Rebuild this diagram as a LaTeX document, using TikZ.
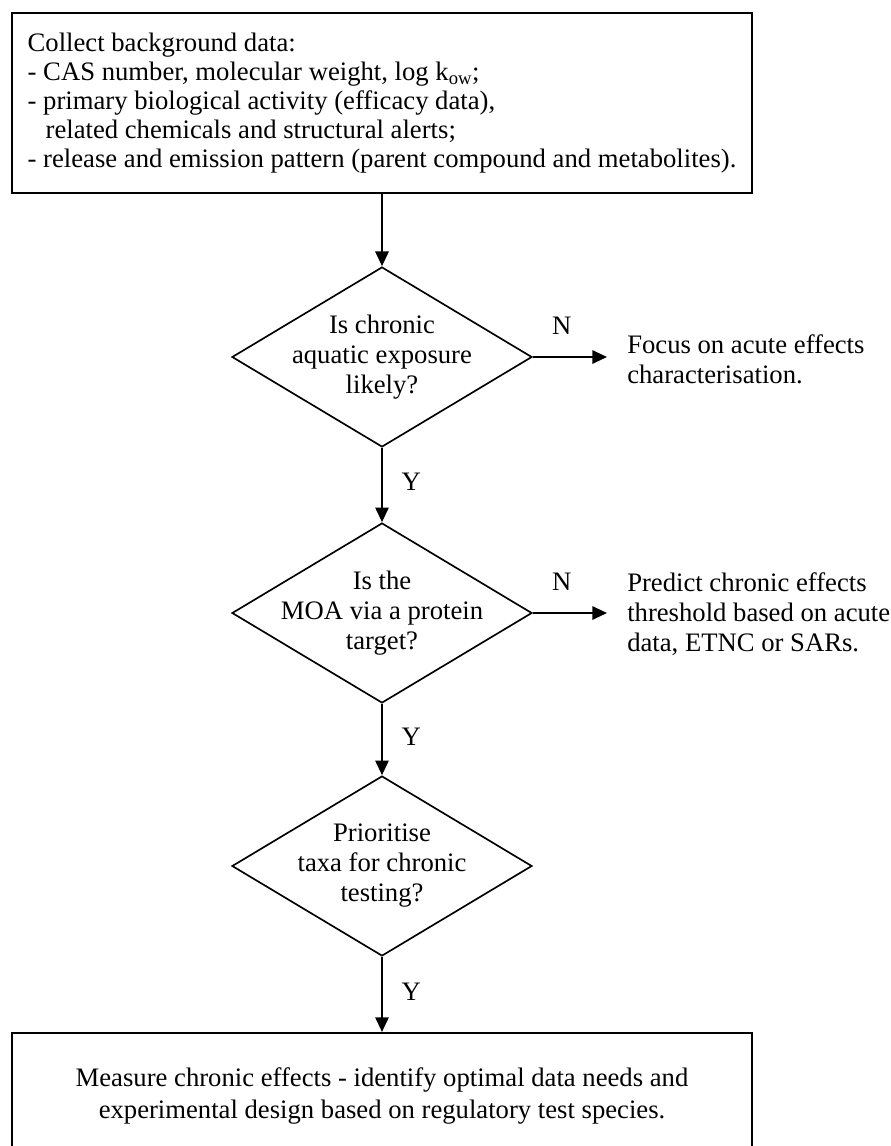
\documentclass[tikz,border=0pt]{standalone}
\usepackage{fontspec}
\setmainfont{Liberation Serif}
\usetikzlibrary{arrows.meta,shapes.geometric}

\begin{document}
\begin{tikzpicture}[
    x=0.75pt, y=-0.75pt,
    box/.style={draw, line width=1.6pt, inner xsep=11pt, inner ysep=0pt,
                font=\fontsize{20}{21.75}\selectfont},
    decision/.style={diamond, draw, line width=1.25pt, inner sep=0pt,
                minimum width=225pt, minimum height=135pt},
    dtext/.style={align=center, inner sep=0pt,
                font=\fontsize{20}{22.5}\selectfont},
    outcome/.style={align=left, inner xsep=15pt, inner ysep=0pt,
                font=\fontsize{20}{22.5}\selectfont},
    flowarrow/.style={-{Triangle[length=11pt,width=10pt]}, line width=1.5pt},
    nlabel/.style={font=\fontsize{20}{22.5}\selectfont, inner sep=0pt,
                pos=0.39, above=16pt},
    ylabel/.style={font=\fontsize{20}{22.5}\selectfont, inner sep=0pt,
                pos=0.46, right=14pt}
  ]
  \useasboundingbox (0,0) rectangle (891,1146);
  \clip (0,0) rectangle (891,1146);

  % starting point: background information
  \node[box, align=left, minimum width=555pt, minimum height=135pt]
    (bg) at (382,103)
    {Collect background data:\\
     - CAS number, molecular weight, log k\textsubscript{ow};\\
     - primary biological activity (efficacy data),\\
     \hspace*{13.5pt}related chemicals and structural alerts;\\
     - release and emission pattern (parent compound and metabolites).};

  % decisions
  \node[decision, label={[dtext]center:{Is chronic\\aquatic exposure\\likely?}}]
    (d1) at (382,357) {};
  \node[decision, label={[dtext]center:{Is the\\MOA via a protein\\target?}}]
    (d2) at (382,613) {};
  \node[decision, label={[dtext]center:{Prioritise\\taxa for chronic\\testing?}}]
    (d3) at (382,866) {};

  % "no" outcomes
  \node[outcome, anchor=west] (f1) at (607,359)
    {Focus on acute effects\\characterisation.};
  \node[outcome, anchor=west] (f2) at (607,614)
    {Predict chronic effects\\threshold based on acute\\data, ETNC or SARs.};

  % final step
  \node[box, align=center, minimum width=555pt, minimum height=94.5pt,
        font=\fontsize{20}{23.5}\selectfont]
    (mc) at (382,1096)
    {Measure chronic effects - identify optimal data needs and\\
     experimental design based on regulatory test species.};

  % connectors
  \draw[flowarrow] (bg) -- (d1);
  \draw[flowarrow] (d1) -- node[ylabel] (y1) {Y} (d2);
  \draw[flowarrow] (d2) -- node[ylabel] (y2) {Y} (d3);
  \draw[flowarrow] (d3) -- node[ylabel] (y3) {Y} (mc);
  \draw[flowarrow] (d1.east) -- node[nlabel] (n1) {N} (d1.east -| f1.west);
  \draw[flowarrow] (d2.east) -- node[nlabel] (n2) {N} (d2.east -| f2.west);
\end{tikzpicture}
\end{document}
